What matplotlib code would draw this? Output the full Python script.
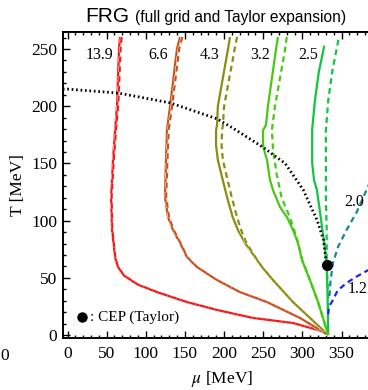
import matplotlib
matplotlib.use("Agg")
import matplotlib.pyplot as plt
from matplotlib.ticker import MultipleLocator
import matplotlib.patheffects as pe

plt.rcParams["mathtext.fontset"] = "stix"

# ---------------- data ----------------
# crossover / CEP line (Taylor), dotted
cross_mu = [-6, 0, 65, 131, 191, 211, 250, 278, 301, 319, 327, 331]
cross_T = [215, 215, 211.5, 203, 189, 181, 164, 150, 127, 100, 83, 61]
cep_mu, cep_T = 331, 61

# s/n = 13.9
s139_T = [260.5, 250, 200, 179, 153, 120.6, 91.8, 68, 60, 52, 44, 37.6, 28.8, 21.9, 14.9, 10.5, 2.6, 0]
s139_mu = [67, 65.8, 63.2, 60.7, 58.1, 55.6, 56.8, 60.7, 64, 72, 90, 114, 152.5, 191, 237, 288, 329, 333]
s139d_mu = [69, 67.8, 64.7, 61.9, 59.1, 56.3, 57.3, 61.2, 64.3, 72.2, 90.2, 114.3, 152.7, 191.2, 237, 288, 329, 333]

# s/n = 6.6
s66_T = [260.5, 250, 200, 179, 153, 120.6, 103, 91.8, 80.4, 68, 59.4, 48, 37.6, 28.8, 14.9, 0]
s66_mu = [143.7, 139.8, 131, 127, 125.8, 124.5, 128.4, 134.7, 143.7, 152.6, 165.4, 191, 220, 254.8, 297, 333]
s66d_mu = [146.7, 142.6, 133.5, 129.2, 127.6, 126, 129.6, 135.6, 144.3, 153, 165.6, 191, 220, 254.8, 297, 333]

# s/n = 4.3
s43_T = [260.5, 250, 200, 183.6, 179, 166, 153, 120.6, 103, 91.8, 80.4, 68, 59.4, 48, 28.8, 0]
s43_mu = [207.5, 205, 192, 191, 189.7, 189.7, 192, 203.7, 211, 217.7, 226.7, 239.5, 248.4, 262.5, 288, 333]
s43d_mu = [216.5, 213.5, 200, 198.5, 197.4, 196.8, 198.4, 209.7, 216.5, 221.7, 228.5, 240, 248.6, 262.5, 288, 333]

# s/n = 3.2
s32_T = [260.5, 250, 200, 183.6, 179, 166, 159, 153, 135.5, 126.7, 111.9, 103, 91.8, 80.4, 65.6, 48, 28.8, 0]
s32_mu = [268.8, 266.3, 256, 253.5, 249.7, 249.7, 252.2, 254.8, 258.6, 262.5, 271.4, 280.3, 288, 294.4, 299.5, 309.7, 320, 333]
s32d_T = [260.5, 250, 200, 179, 162, 141, 120, 103, 85, 75, 65.6, 48, 28.8, 0]
s32d_mu = [280, 278, 265, 261, 262.5, 267, 273.5, 284, 292.7, 296.5, 299.8, 309.7, 320, 333]

# s/n = 2.5
s25_T = [253, 230, 205, 180, 150, 135, 127, 100, 80, 60, 40, 20, 0]
s25_mu = [328, 321, 316, 312.5, 312.5, 315, 318.5, 324, 328, 331, 332, 332.5, 333]
s25d_T = [258, 230, 205, 179, 150, 120, 92, 61, 40, 24]
s25d_mu = [346, 338, 333, 330, 330, 330, 331, 331, 332.5, 333]

# s/n = 2.0 (Taylor only)
s20_T = [34, 48, 63, 77, 92, 107, 127, 145]
s20_mu = [334.5, 336, 339, 345.5, 356.5, 369, 382, 394]

# s/n = 1.2 (Taylor only)
s12_T = [18, 22, 26, 30.6, 39, 45.5, 51, 56, 60]
s12_mu = [333, 333.5, 335, 339, 345, 356.5, 369, 382, 394]

labels = ["13.9", "6.6", "4.3", "3.2", "2.5", "2.0", "1.2"]
label_mu = [41.5, 116, 182, 246, 307, 366, 371]
label_T = [245, 245, 245, 245, 245, 116, 40]

colors = {"13.9": "#f41a1a", "6.6": "#c9521c", "4.3": "#8c8c10",
          "3.2": "#48c814", "2.5": "#12c444", "2.0": "#16898c", "1.2": "#1c24f0"}

# ---------------- figure ----------------
fig = plt.figure(figsize=(3.68, 3.90), dpi=100)
ax = fig.add_axes([63 / 368, 52 / 390, (380.7 - 63) / 368, 306 / 390])
ax.set_xlim(-5.75, 400)
ax.set_ylim(-2.6, 264.9)

lw = 1.6
dash = (2.6, 1.8)
wstroke = [pe.Stroke(linewidth=lw + 0.7, foreground="white"), pe.Normal()]

solids = [("13.9", s139_mu, s139_T), ("6.6", s66_mu, s66_T), ("4.3", s43_mu, s43_T),
          ("3.2", s32_mu, s32_T), ("2.5", s25_mu, s25_T)]
dasheds = [("13.9", s139d_mu, s139_T), ("6.6", s66d_mu, s66_T), ("4.3", s43d_mu, s43_T),
           ("3.2", s32d_mu, s32d_T), ("2.5", s25d_mu, s25d_T),
           ("2.0", s20_mu, s20_T), ("1.2", s12_mu, s12_T)]

for key, mu, T in solids:
    ax.plot(mu, T, color=colors[key], lw=lw, solid_capstyle="butt", zorder=3)
for key, mu, T in dasheds:
    ln, = ax.plot(mu, T, color=colors[key], lw=lw, zorder=4)
    ln.set_dashes(dash)
    if key in ("13.9", "6.6", "4.3"):
        ln.set_path_effects(wstroke)

dl, = ax.plot(cross_mu, cross_T, color="black", lw=2.0, zorder=5)
dl.set_dashes((0.6, 1.0))
ax.plot([cep_mu], [cep_T], "o", color="black", ms=7, zorder=6)

serif = ["Liberation Serif", "DejaVu Serif"]
for lab, m, t in zip(labels, label_mu, label_T):
    ax.text(m, t, lab, ha="center", va="center", fontsize=11.5, family=serif, zorder=7)

# legend
ax.plot([18.5], [15.7], "o", color="black", ms=6.5, clip_on=False, zorder=6)
ax.text(29, 15.7, ": CEP (Taylor)", ha="left", va="center", fontsize=11, family=serif)

# axes styling
for s in ["left", "bottom", "top"]:
    ax.spines[s].set_linewidth(1.4)
ax.spines["right"].set_visible(False)
ax.xaxis.set_major_locator(MultipleLocator(50))
ax.xaxis.set_minor_locator(MultipleLocator(10))
ax.yaxis.set_major_locator(MultipleLocator(50))
ax.yaxis.set_minor_locator(MultipleLocator(10))
ax.tick_params(which="both", direction="in", top=True, right=False, width=1.0)
ax.tick_params(which="major", length=5, labelsize=12.5, pad=4)
ax.tick_params(axis="x", which="major", pad=6)
ax.tick_params(which="minor", length=2.5)
ax.set_xticks([0, 50, 100, 150, 200, 250, 300, 350])
ax.set_yticks([0, 50, 100, 150, 200, 250])
for lab in ax.get_xticklabels() + ax.get_yticklabels():
    lab.set_family(serif)

ax.set_xlabel(r"$\mu$ [MeV]", fontsize=12.5, family=serif, labelpad=5)
ax.set_ylabel("T [MeV]", fontsize=12.5, family=serif, labelpad=4)

# title
sans = ["Liberation Sans", "DejaVu Sans"]
fig.text(85 / 368, 1 - 22 / 390, "FRG", fontsize=15, family=sans, ha="left", va="baseline")
fig.text(135 / 368, 1 - 22 / 390, "(full grid and Taylor expansion)", fontsize=11.2,
         family=sans, ha="left", va="baseline")

# tick label of neighbouring panel at the left edge
fig.text(0.5 / 368, 1 - 356 / 390, "0", fontsize=12.5, family=serif, ha="left", va="center")

fig.savefig("out.png", dpi=100)
